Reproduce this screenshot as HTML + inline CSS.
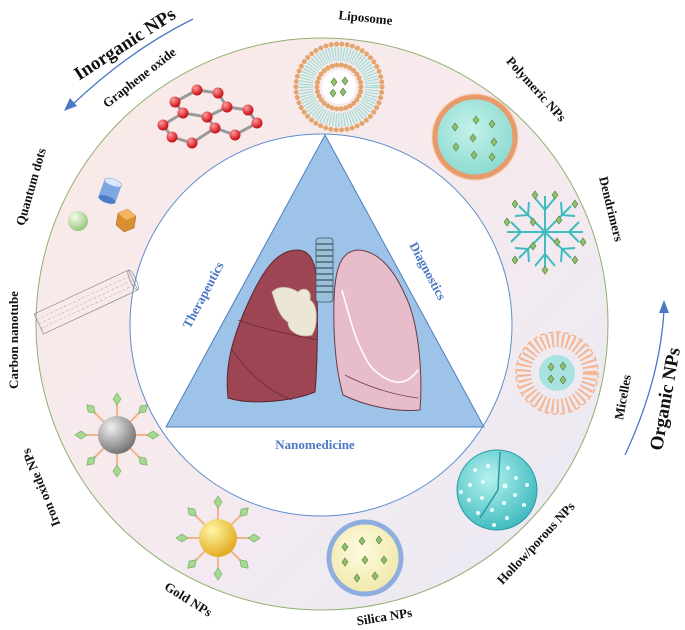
<!DOCTYPE html>
<html><head><meta charset="utf-8"><style>
html,body{margin:0;padding:0;background:#fff}
svg{display:block}
text{font-family:"Liberation Serif",serif;font-weight:bold}
</style></head><body>
<svg width="685" height="630" viewBox="0 0 685 630" xmlns="http://www.w3.org/2000/svg">
<defs>
<linearGradient id="ring" x1="0" y1="0" x2="1" y2="1">
<stop offset="0" stop-color="#fbe9e6"/><stop offset="0.5" stop-color="#f5eaee"/><stop offset="1" stop-color="#e9e9f5"/>
</linearGradient>
<radialGradient id="silver" cx="0.35" cy="0.3" r="0.75"><stop offset="0" stop-color="#f0f0f0"/><stop offset="1" stop-color="#6e6e6e"/></radialGradient>
<radialGradient id="gold" cx="0.35" cy="0.3" r="0.75"><stop offset="0" stop-color="#fff6a8"/><stop offset="1" stop-color="#e0a818"/></radialGradient>
<radialGradient id="red" cx="0.35" cy="0.3" r="0.7"><stop offset="0" stop-color="#ff9a9a"/><stop offset="1" stop-color="#c80c12"/></radialGradient>
<radialGradient id="green" cx="0.35" cy="0.3" r="0.75"><stop offset="0" stop-color="#f2fbe8"/><stop offset="1" stop-color="#94c47e"/></radialGradient>
<radialGradient id="teal" cx="0.4" cy="0.35" r="0.7"><stop offset="0" stop-color="#b4f1ee"/><stop offset="1" stop-color="#3cb9bd"/></radialGradient>
<radialGradient id="poly" cx="0.45" cy="0.4" r="0.65"><stop offset="0" stop-color="#c4f2ea"/><stop offset="1" stop-color="#86d8cf"/></radialGradient>
<radialGradient id="sil" cx="0.45" cy="0.4" r="0.65"><stop offset="0" stop-color="#fdfbe0"/><stop offset="1" stop-color="#f0e6a6"/></radialGradient>
<g id="dia"><path d="M0,-6 L4,0 L0,6 L-4,0Z" fill="#a6d892" stroke="#6ea85c" stroke-width="0.6"/></g>
<g id="dd"><path d="M0,-4 L3,0 L0,4 L-3,0Z" fill="#8fbf6a" stroke="#4f7a3a" stroke-width="0.6"/></g>
<g id="spiky">
<g stroke="#f2b48c" stroke-width="2">
<line x1="0" y1="-34" x2="0" y2="34"/><line x1="-34" y1="0" x2="34" y2="0"/>
<line x1="-24" y1="-24" x2="24" y2="24"/><line x1="-24" y1="24" x2="24" y2="-24"/>
</g>
<use href="#dia" transform="translate(0,-36)"/><use href="#dia" transform="translate(0,36)"/>
<use href="#dia" transform="translate(-36,0) rotate(90)"/><use href="#dia" transform="translate(36,0) rotate(90)"/>
<use href="#dia" transform="translate(26,-26) rotate(45)"/><use href="#dia" transform="translate(-26,26) rotate(45)"/>
<use href="#dia" transform="translate(-26,-26) rotate(-45)"/><use href="#dia" transform="translate(26,26) rotate(-45)"/>
</g>
</defs>

<!-- ring -->
<circle cx="322" cy="324" r="286" fill="url(#ring)" stroke="#8fb070" stroke-width="1"/>
<circle cx="321" cy="325" r="191" fill="#fff" stroke="#5d8ccc" stroke-width="1"/>
<!-- triangle -->
<path d="M325,135 L484,427 L166,427 Z" fill="#9dc3e8" stroke="#4f7ebd" stroke-width="1"/>

<!-- lungs -->
<path d="M297,250 C275,250 260,275 245,310 C230,345 225,370 228,398 C250,405 290,402 315,392 C318,360 318,300 316,275 C314,258 308,250 297,250 Z" fill="#9e4553" stroke="#5a2630" stroke-width="1"/>
<path d="M238,320 C265,330 295,335 317,340 M232,350 C250,375 270,392 292,400" fill="none" stroke="#6a2b36" stroke-width="0.8"/>
<path d="M272,292 C280,284 292,288 298,292 C304,286 312,290 310,300 C318,305 318,325 312,335 C300,338 288,332 288,322 C280,318 276,305 272,292 Z" fill="#ece6d6" stroke="#c8bfa8" stroke-width="0.8"/>
<path d="M357,250 C340,252 335,270 334,300 C333,340 336,370 343,395 C370,408 400,412 420,410 C423,370 418,320 405,295 C392,265 375,250 357,250 Z" fill="#e8bdcb" stroke="#6a3a48" stroke-width="1"/>
<path d="M342,290 C350,320 358,350 372,368 C390,385 405,388 418,370" fill="none" stroke="#fff" stroke-width="1.5"/>
<path d="M345,375 C370,388 395,395 418,398" fill="none" stroke="#6a3a48" stroke-width="0.8"/>
<rect x="316" y="238" width="17" height="64" rx="3" fill="#9cc0d8" stroke="#3d5566" stroke-width="0.8"/>
<path d="M316,244h17M316,250h17M316,256h17M316,262h17M316,268h17M316,274h17M316,280h17M316,286h17M316,292h17" stroke="#3d5566" stroke-width="1.2"/>

<!-- liposome -->
<circle cx="339" cy="87" r="33" fill="none" stroke="#9fded8" stroke-width="14" stroke-dasharray="1.2 1.5"/>
<circle cx="339" cy="87" r="43" fill="none" stroke="#e2a56e" stroke-width="5" stroke-dasharray="0 5.4" stroke-linecap="round"/>
<circle cx="339" cy="87" r="22" fill="none" stroke="#e2a56e" stroke-width="5" stroke-dasharray="0 4.6" stroke-linecap="round"/>
<circle cx="339" cy="87" r="17" fill="#fff"/>
<use href="#dd" transform="translate(334,82)"/><use href="#dd" transform="translate(345,81)"/><use href="#dd" transform="translate(333,93)"/><use href="#dd" transform="translate(343,92)"/>

<!-- polymeric -->
<circle cx="475" cy="137" r="40" fill="url(#poly)" stroke="#e89a6a" stroke-width="5"/>
<circle cx="475" cy="137" r="43" fill="none" stroke="#f6c8a8" stroke-width="1"/>
<use href="#dd" transform="translate(476,120)"/><use href="#dd" transform="translate(492,124)"/><use href="#dd" transform="translate(455,127)"/><use href="#dd" transform="translate(473,138)"/><use href="#dd" transform="translate(494,142)"/><use href="#dd" transform="translate(456,147)"/><use href="#dd" transform="translate(474,155)"/><use href="#dd" transform="translate(492,157)"/>

<!-- dendrimer -->
<g stroke="#40bcc0" stroke-width="2" fill="none" transform="translate(545,232)">
<path d="M0,0 L0,-36 M0,-22 L-10,-34 M0,-22 L10,-34 M0,0 L0,36 M0,22 L-10,34 M0,22 L10,34 M0,0 L-38,0 M-24,0 L-34,-10 M-24,0 L-34,10 M0,0 L38,0 M24,0 L34,-10 M24,0 L34,10 M0,0 L-26,-26 M-17,-17 L-30,-16 M-17,-17 L-16,-30 M0,0 L26,-26 M17,-17 L30,-16 M17,-17 L16,-30 M0,0 L-26,26 M-17,17 L-30,16 M-17,17 L-16,30 M0,0 L26,26 M17,17 L30,16 M17,17 L16,30"/>
</g>
<g transform="translate(545,232)">
<use href="#dd" transform="translate(-10,-37)"/><use href="#dd" transform="translate(10,-37)"/><use href="#dd" transform="translate(0,38)"/><use href="#dd" transform="translate(-38,-10)"/><use href="#dd" transform="translate(38,10)"/><use href="#dd" transform="translate(-30,-28)"/><use href="#dd" transform="translate(30,-28)"/><use href="#dd" transform="translate(-30,28)"/><use href="#dd" transform="translate(30,28)"/><use href="#dd" transform="translate(-12,-10)"/><use href="#dd" transform="translate(12,10)"/><use href="#dd" transform="translate(-12,14)"/><use href="#dd" transform="translate(14,-12)"/>
</g>

<!-- micelle -->
<circle cx="557" cy="373" r="33" fill="none" stroke="#f6a878" stroke-width="14" stroke-dasharray="2 3" opacity="0.8"/>
<circle cx="557" cy="373" r="41" fill="none" stroke="#f6a878" stroke-width="1.2" stroke-dasharray="5 3"/>
<circle cx="557" cy="373" r="18" fill="#a8e3e2"/>
<use href="#dd" transform="translate(551,367)"/><use href="#dd" transform="translate(563,366)"/><use href="#dd" transform="translate(551,379)"/><use href="#dd" transform="translate(563,380)"/>

<!-- hollow porous -->
<circle cx="497" cy="490" r="40" fill="url(#teal)" stroke="#2a9a9e" stroke-width="1"/>
<path d="M500,452 L498,490 L480,518" fill="none" stroke="#2a9a9e" stroke-width="1.5"/>
<g fill="#e8fbfb">
<circle cx="475" cy="470" r="2"/><circle cx="488" cy="466" r="2"/><circle cx="470" cy="485" r="2"/><circle cx="483" cy="482" r="2"/><circle cx="469" cy="500" r="2"/><circle cx="482" cy="498" r="2"/><circle cx="478" cy="513" r="2"/><circle cx="492" cy="510" r="2"/><circle cx="508" cy="468" r="2"/><circle cx="516" cy="478" r="2"/><circle cx="505" cy="486" r="2.5"/><circle cx="515" cy="495" r="2"/><circle cx="504" cy="503" r="2"/><circle cx="524" cy="505" r="2"/><circle cx="507" cy="518" r="2"/><circle cx="494" cy="525" r="2"/><circle cx="461" cy="492" r="2"/><circle cx="527" cy="485" r="2"/>
</g>

<!-- silica -->
<circle cx="365" cy="558" r="36" fill="url(#sil)" stroke="#8faee0" stroke-width="5"/>
<use href="#dd" transform="translate(345,547)"/><use href="#dd" transform="translate(362,541)"/><use href="#dd" transform="translate(379,540)"/><use href="#dd" transform="translate(345,562)"/><use href="#dd" transform="translate(365,560)"/><use href="#dd" transform="translate(384,560)"/><use href="#dd" transform="translate(357,578)"/><use href="#dd" transform="translate(375,576)"/>

<!-- gold / iron -->
<use href="#spiky" transform="translate(218,538)"/>
<circle cx="218" cy="538" r="19" fill="url(#gold)"/>
<use href="#spiky" transform="translate(117,435)"/>
<circle cx="117" cy="435" r="19" fill="url(#silver)"/>

<!-- carbon nanotube -->
<g transform="translate(86,302) rotate(-25)">
<rect x="-52" y="-11" width="104" height="22" fill="none" stroke="#888" stroke-width="0.7"/>
<path d="M-52,-5 h104 M-52,0 h104 M-52,5 h104" stroke="#aaa" stroke-width="0.5" stroke-dasharray="3 2"/>
<ellipse cx="52" cy="0" rx="3" ry="11" fill="none" stroke="#888" stroke-width="0.7"/>
</g>

<!-- quantum dots -->
<circle cx="78" cy="221" r="10" fill="url(#green)"/>
<path d="M118,213 L128,209 L136,216 L134,228 L124,232 L116,225 Z" fill="#d98e32" stroke="#a86418" stroke-width="0.5"/>
<path d="M118,213 L128,209 L136,216 L126,220 Z" fill="#f1b460"/>
<g transform="translate(110,191) rotate(20)">
<rect x="-9" y="-9" width="18" height="18" fill="#7ea6e0"/>
<ellipse cx="0" cy="-9" rx="9" ry="3.5" fill="#dce8fa" stroke="#7ea6e0" stroke-width="0.6"/>
<ellipse cx="0" cy="9" rx="9" ry="3.5" fill="#4f7cc6"/>
</g>

<!-- graphene -->
<g stroke="#999" stroke-width="3" fill="none">
<path d="M175,102 L197,90 L218,93 L227,107 L207,117 L183,113 Z"/>
<path d="M227,107 L248,110 L257,123 L235,135 L215,128 L207,117"/>
<path d="M183,113 L163,125 L172,137 L192,143 L215,128"/>
</g>
<g fill="url(#red)">
<circle cx="197" cy="90" r="5.5"/><circle cx="218" cy="93" r="5.5"/><circle cx="227" cy="107" r="5.5"/><circle cx="207" cy="117" r="5.5"/><circle cx="183" cy="113" r="5.5"/><circle cx="175" cy="102" r="5.5"/><circle cx="248" cy="110" r="5.5"/><circle cx="257" cy="123" r="5.5"/><circle cx="235" cy="135" r="5.5"/><circle cx="215" cy="128" r="5.5"/><circle cx="192" cy="143" r="5.5"/><circle cx="172" cy="137" r="5.5"/><circle cx="163" cy="125" r="5.5"/>
</g>

<!-- arrows -->
<path d="M193,19 Q130,50 72,105" fill="none" stroke="#4a78c4" stroke-width="1.3"/>
<path d="M64,111 L70,98 L77,106 Z" fill="#4a78c4"/>
<path d="M625,455 Q660,380 664,310" fill="none" stroke="#4a78c4" stroke-width="1.3"/>
<path d="M664,300 L659,313 L669,313 Z" fill="#4a78c4"/>

<!-- labels -->
<g fill="#111" font-size="13" text-anchor="middle">
<text transform="translate(365,22) rotate(6)">Liposome</text>
<text transform="translate(533,92) rotate(48)">Polymeric NPs</text>
<text transform="translate(607,210) rotate(76)">Dendrimers</text>
<text transform="translate(627,398) rotate(-80)">Micelles</text>
<text transform="translate(539,546) rotate(-47)">Hollow/porous NPs</text>
<text transform="translate(385,621) rotate(-9)">Silica NPs</text>
<text transform="translate(186,603) rotate(32)">Gold NPs</text>
<text transform="translate(45,486) rotate(-112)">Iron oxide NPs</text>
<text transform="translate(18,340) rotate(-90)">Carbon nanotube</text>
<text transform="translate(35,188) rotate(-74)">Quantum dots</text>
<text transform="translate(142,81) rotate(-38)">Graphene oxide</text>
</g>
<g fill="#111" font-size="19" text-anchor="middle">
<text transform="translate(128,49) rotate(-33)">Inorganic NPs</text>
<text transform="translate(671,400) rotate(-80)">Organic NPs</text>
</g>
<g fill="#4a78c4" font-size="13" text-anchor="middle">
<text transform="translate(207,297) rotate(-62)">Therapeutics</text>
<text transform="translate(424,273) rotate(62)">Diagnostics</text>
<text x="315" y="449">Nanomedicine</text>
</g>
</svg>
</body></html>
